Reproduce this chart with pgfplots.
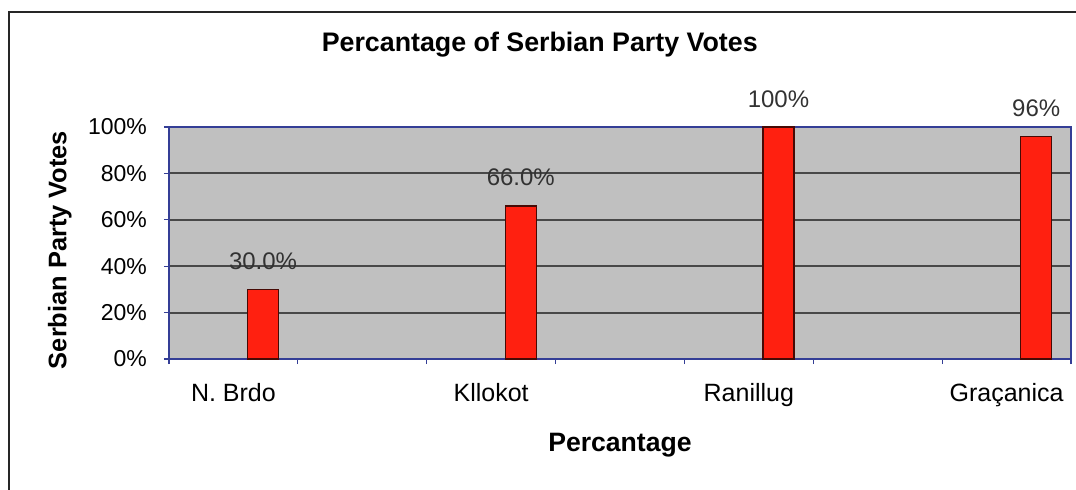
\documentclass[border=0pt]{standalone}
\usepackage{pgfplots}
\pgfplotsset{compat=1.18}
\usepackage{fontspec}
\setmainfont{Liberation Sans}

\definecolor{plotbg}{RGB}{192,192,192}
\definecolor{axisblue}{RGB}{52,62,150}
\definecolor{gridgray}{RGB}{72,72,72}
\definecolor{barred}{RGB}{255,32,16}
\definecolor{baredge}{RGB}{70,10,5}
\definecolor{lblgray}{RGB}{50,50,50}

\begin{document}
\begin{tikzpicture}
	\useasboundingbox (0,0) rectangle (538pt,244.5pt);
	\begin{axis}[
		at = {(84.5pt,65pt)},
		anchor = south west,
		scale only axis,
		width = 451pt,
		height = 116pt,
		xmin = 0, xmax = 7,
		ymin = 0, ymax = 100,
		axis background/.style = {fill=plotbg},
		axis line style = {axisblue, line width=1pt},
		xtick pos = bottom,
		ytick pos = left,
		xtick = {0.5,2.5,4.5,6.5},
		xticklabels = {N. Brdo, Kllokot, Ranillug, Graçanica},
		major x tick style = {draw=none},
		minor xtick = {0,1,...,7},
		minor x tick style = {axisblue, line width=0.6pt},
		minor tick length = 2.5pt,
		tick align = outside,
		ytick = {0,20,...,100},
		yticklabels = {0\%,20\%,40\%,60\%,80\%,100\%},
		major y tick style = {axisblue, line width=0.6pt},
		major tick length = 2.5pt,
		ymajorgrids,
		grid style = {gridgray, line width=1pt},
		xticklabel style = {font=\fontsize{12.5}{14}\selectfont, yshift=-6pt},
		yticklabel style = {font=\fontsize{11.5}{13}\selectfont, xshift=-5pt},
		every axis title shift = 0pt,
		title = {Percantage of Serbian Party Votes},
		title style = {font=\bfseries\fontsize{13.4}{15}\selectfont,
			at={(axis description cs:0.411,1.353)}, anchor=center},
		xlabel = {Percantage},
		xlabel style = {font=\bfseries\fontsize{13.3}{15}\selectfont,
			at={(axis description cs:0.5,-0.371)}, anchor=center},
		ylabel = {Serbian Party Votes},
		ylabel style = {font=\bfseries\fontsize{12.7}{15}\selectfont,
			at={(axis description cs:-0.121,0.47)}, anchor=center},
		ybar,
		bar width = 15.5pt,
		nodes near coords,
		point meta = explicit symbolic,
		every node near coord/.append style = {font=\fontsize{12}{14}\selectfont,
			text=lblgray, anchor=south, inner sep=0pt, yshift=9.5pt},
		clip = false,
	]
		\addplot[
			fill = barred,
			draw = baredge,
			line width = 0.7pt,
		] coordinates {
		( 0.73, 30 ) [30.0\%]
		( 2.73, 66 ) [66.0\%]
		( 4.73, 100 ) [100\%]
		( 6.73, 96 ) [96\%]
		};
	\end{axis}
	\draw[line width=1.3pt, black!85] (4.5pt,-10pt) rectangle (560pt,238.5pt);
\end{tikzpicture}
\end{document}
